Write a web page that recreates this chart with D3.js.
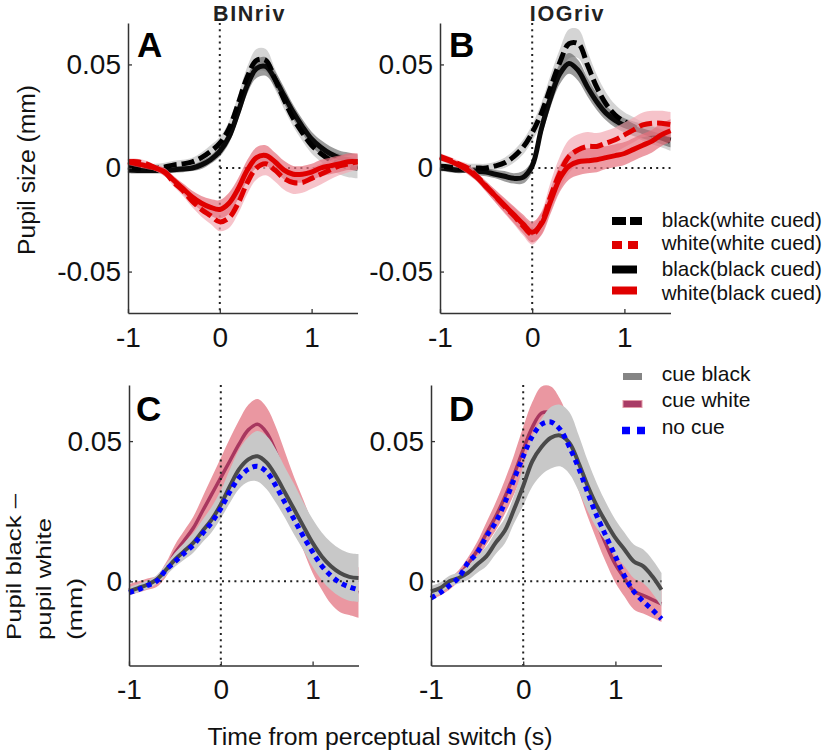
<!DOCTYPE html>
<html><head><meta charset="utf-8">
<script src="https://cdn.jsdelivr.net/npm/d3@7"></script>
<style>
body{margin:0;background:#fff;}
svg{display:block;font-family:"Liberation Sans",Arial,Helvetica,sans-serif;}
</style></head><body>
<svg id="chart" width="826" height="754"></svg>
<script>
// ---------- data ----------
const time = [-1,-0.9,-0.8,-0.7,-0.6,-0.5,-0.4,-0.3,-0.2,-0.1,0,0.1,0.2,0.3,0.4,0.5,0.6,0.7,0.8,0.9,1,1.1,1.2,1.3,1.4,1.5];
const xTicks = [-1,0,1];
const topYTicks = [-0.05,0,0.05];
const bottomYTicks = [0,0.05];
const panelTitles = ["BINriv","IOGriv"];
const panelLetters = ["A","B","C","D"];
const legendTop = ["black(white cued)","white(white cued)","black(black cued)","white(black cued)"];
const legendBottom = ["cue black","cue white","no cue"];

// Panel A (BINriv)
const A_blackWhiteCued = [0.0005,0,0,0,0.0005,0.0015,0.002,0.003,0.005,0.008,0.012,0.019,0.031,0.044,0.052,0.052,0.043,0.033,0.024,0.017,0.011,0.007,0.004,0.002,0.0005,0];
const A_blackWhiteCuedSE = [0.002,0.002,0.002,0.002,0.002,0.002,0.002,0.002,0.0025,0.003,0.003,0.0035,0.004,0.005,0.0055,0.0055,0.005,0.0045,0.004,0.004,0.004,0.004,0.0045,0.005,0.005,0.005];
const A_whiteWhiteCued = [0.003,0.003,0.002,0,-0.002,-0.007,-0.011,-0.016,-0.020,-0.023,-0.026,-0.024,-0.017,-0.007,0,0.002,-0.001,-0.005,-0.007,-0.007,-0.005,-0.003,-0.001,0.001,0.002,0.003];
const A_whiteWhiteCuedSE = [0.0015,0.0015,0.0015,0.0015,0.002,0.002,0.0025,0.003,0.0035,0.004,0.0045,0.005,0.005,0.0055,0.0055,0.0055,0.0055,0.0055,0.0055,0.005,0.005,0.005,0.0045,0.0045,0.004,0.004];
const A_blackBlackCued = [-0.001,-0.0012,-0.0012,-0.0012,-0.001,-0.0008,-0.0005,0,0.0015,0.004,0.008,0.015,0.027,0.040,0.048,0.049,0.043,0.035,0.027,0.020,0.014,0.010,0.007,0.005,0.004,0.003];
const A_blackBlackCuedSE = [0.0015,0.0015,0.0015,0.0015,0.0015,0.0015,0.0015,0.0015,0.002,0.002,0.0025,0.003,0.0035,0.004,0.0045,0.0045,0.004,0.004,0.0035,0.0035,0.0035,0.0035,0.0035,0.0035,0.0035,0.0035];
const A_whiteBlackCued = [0.003,0.002,0.001,0,-0.002,-0.006,-0.010,-0.014,-0.017,-0.019,-0.020,-0.017,-0.010,-0.001,0.005,0.006,0.003,-0.001,-0.003,-0.003,-0.002,0,0.001,0.002,0.003,0.003];
const A_whiteBlackCuedSE = [0.0015,0.0015,0.0015,0.0015,0.002,0.002,0.0025,0.003,0.0035,0.004,0.0045,0.005,0.005,0.005,0.005,0.005,0.0045,0.0045,0.004,0.004,0.004,0.004,0.004,0.004,0.004,0.004];

// Panel B (IOGriv)
const B_blackWhiteCued = [0.0008,0.0005,0,0,0,0,0.001,0.0025,0.0055,0.010,0.017,0.0265,0.039,0.051,0.060,0.060,0.0497,0.039,0.031,0.0256,0.0224,0.020,0.0176,0.016,0.0145,0.0128];
const B_blackWhiteCuedSE = [0.002,0.002,0.002,0.002,0.002,0.002,0.002,0.0025,0.003,0.0035,0.004,0.005,0.006,0.0065,0.007,0.007,0.0065,0.006,0.0055,0.005,0.0045,0.0045,0.0045,0.0045,0.0045,0.0045];
const B_whiteWhiteCued = [0.0056,0.004,0.002,0,-0.004,-0.0088,-0.0136,-0.0185,-0.023,-0.028,-0.032,-0.0265,-0.0137,-0.0024,0.0056,0.0088,0.0104,0.0104,0.012,0.0136,0.016,0.0184,0.0208,0.0216,0.0216,0.021];
const B_whiteWhiteCuedSE = [0.0015,0.0015,0.0015,0.002,0.002,0.0025,0.003,0.0035,0.004,0.0045,0.005,0.0055,0.007,0.008,0.008,0.0075,0.007,0.0065,0.006,0.006,0.006,0.006,0.006,0.006,0.006,0.006];
const B_blackBlackCued = [0,-0.0005,-0.001,-0.001,-0.0015,-0.002,-0.003,-0.004,-0.005,-0.0045,0.001,0.019,0.034,0.0455,0.0505,0.047,0.039,0.032,0.0265,0.023,0.0205,0.019,0.0178,0.0165,0.015,0.0135];
const B_blackBlackCuedSE = [0.0015,0.0015,0.0015,0.0015,0.002,0.002,0.002,0.0025,0.0025,0.003,0.003,0.004,0.0045,0.005,0.005,0.005,0.0045,0.004,0.0035,0.0035,0.0035,0.0035,0.0035,0.0035,0.0035,0.0035];
const B_whiteBlackCued = [0.005,0.0035,0.0015,-0.001,-0.0045,-0.009,-0.0135,-0.018,-0.0225,-0.027,-0.031,-0.027,-0.016,-0.005,0.001,0.003,0.0035,0.004,0.005,0.006,0.007,0.009,0.011,0.013,0.016,0.018];
const B_whiteBlackCuedSE = [0.0015,0.0015,0.0015,0.002,0.002,0.0025,0.003,0.0035,0.004,0.0045,0.005,0.0055,0.006,0.0065,0.0065,0.0065,0.006,0.006,0.0055,0.0055,0.0055,0.0055,0.0055,0.0055,0.0055,0.0055];

// Panel C (BINriv difference)
const C_cueBlack = [-0.0036,-0.0024,-0.0012,0.0006,0.004,0.0077,0.0107,0.0137,0.0179,0.022,0.0274,0.034,0.040,0.0435,0.0446,0.0423,0.0375,0.0316,0.0256,0.0196,0.0137,0.0089,0.0054,0.003,0.0016,0.0012];
const C_cueBlackSE = [0.0015,0.0015,0.0015,0.0015,0.002,0.0025,0.003,0.0035,0.004,0.0045,0.005,0.006,0.007,0.008,0.009,0.0095,0.0095,0.009,0.009,0.0085,0.0085,0.0085,0.0085,0.0085,0.0085,0.0085];
const C_cueWhite = [-0.003,-0.002,-0.001,0,0.004,0.010,0.0145,0.019,0.025,0.031,0.037,0.043,0.049,0.054,0.056,0.053,0.046,0.037,0.028,0.020,0.012,0.006,0.001,-0.002,-0.003,-0.004];
const C_cueWhiteSE = [0.002,0.002,0.002,0.002,0.0025,0.003,0.0035,0.004,0.005,0.006,0.007,0.008,0.0085,0.009,0.009,0.009,0.009,0.009,0.009,0.009,0.009,0.009,0.009,0.009,0.009,0.009];
const C_noCue = [-0.004,-0.003,-0.0015,0,0.004,0.007,0.010,0.013,0.017,0.021,0.026,0.032,0.037,0.040,0.041,0.039,0.034,0.028,0.022,0.016,0.0105,0.0055,0.002,-0.0005,-0.002,-0.003];

// Panel D (IOGriv difference)
const D_cueBlack = [-0.0036,-0.0024,0,0.0012,0.003,0.006,0.0089,0.0137,0.018,0.0256,0.034,0.0429,0.048,0.0512,0.052,0.0494,0.0423,0.034,0.0268,0.0209,0.0155,0.0113,0.0071,0.0054,0.0018,-0.003];
const D_cueBlackSE = [0.002,0.002,0.002,0.002,0.0025,0.003,0.0035,0.004,0.0045,0.005,0.007,0.009,0.010,0.011,0.011,0.011,0.010,0.009,0.008,0.007,0.0065,0.006,0.006,0.006,0.006,0.006];
const D_cueWhite = [-0.005,-0.0035,-0.001,0.002,0.006,0.011,0.017,0.023,0.030,0.038,0.047,0.055,0.060,0.060,0.056,0.049,0.040,0.030,0.021,0.013,0.006,0.001,-0.0035,-0.005,-0.0065,-0.008];
const D_cueWhiteSE = [0.0015,0.0015,0.002,0.002,0.0025,0.003,0.004,0.005,0.006,0.007,0.008,0.009,0.0095,0.0095,0.009,0.008,0.0075,0.007,0.0065,0.0065,0.0065,0.0065,0.0065,0.0065,0.0065,0.0065];
const D_noCue = [-0.006,-0.004,-0.0015,0.0013,0.0066,0.0101,0.016,0.021,0.028,0.0363,0.0446,0.0518,0.056,0.0568,0.0542,0.048,0.0405,0.0316,0.0232,0.016,0.0089,0.0018,-0.0036,-0.0071,-0.0101,-0.0134];

// ---------- drawing ----------
const FONT = '"Liberation Sans",Arial,Helvetica,sans-serif';
const svg = d3.select('#chart');
svg.append('rect').attr('width',826).attr('height',754).attr('fill','#fff');

const xDomain = [-1,1.5];
const layout = {
  A:{l:128,r:357.5,t:23,b:313,yDom:[-0.07,0.07],yTicks:topYTicks,hFrom:0},
  B:{l:440,r:670.5,t:23,b:313,yDom:[-0.07,0.07],yTicks:topYTicks,hFrom:0},
  C:{l:129,r:358.5,t:385,b:665.5,yDom:[-0.03,0.07],yTicks:bottomYTicks,hFrom:-1},
  D:{l:431,r:661.5,t:385,b:665.5,yDom:[-0.03,0.07],yTicks:bottomYTicks,hFrom:-1}
};
const curve = d3.curveCatmullRom.alpha(0.5);
const fmt = d => d === 0 ? '0' : String(d);

function scales(p){
  return {x:d3.scaleLinear().domain(xDomain).range([p.l,p.r]),
          y:d3.scaleLinear().domain(p.yDom).range([p.b,p.t])};
}
function band(g,s,vals,err,fill,op){
  g.append('path')
    .datum(time.map((t,i)=>[t,vals[i],err[i]]))
    .attr('d',d3.area().curve(curve).x(d=>s.x(d[0])).y0(d=>s.y(d[1]-d[2])).y1(d=>s.y(d[1]+d[2])))
    .attr('fill',fill).attr('fill-opacity',op).attr('stroke','none');
}
function line(g,s,vals,stroke,w,dash){
  const p = g.append('path')
    .datum(time.map((t,i)=>[t,vals[i]]))
    .attr('d',d3.line().curve(curve).x(d=>s.x(d[0])).y(d=>s.y(d[1])))
    .attr('fill','none').attr('stroke',stroke).attr('stroke-width',w)
    .attr('stroke-linejoin','round');
  if(dash) p.attr('stroke-dasharray',dash);
}
function refs(g,s,p){
  g.append('line').attr('x1',s.x(0)).attr('x2',s.x(0)).attr('y1',p.t).attr('y2',p.b)
    .attr('stroke','#222').attr('stroke-width',2).attr('stroke-dasharray','2,4.2');
  g.append('line').attr('x1',s.x(p.hFrom)).attr('x2',p.r).attr('y1',s.y(0)).attr('y2',s.y(0))
    .attr('stroke','#222').attr('stroke-width',2).attr('stroke-dasharray','2,4.2');
}
function axes(g,s,p){
  const ay = g.append('g').attr('transform',`translate(${p.l},0)`)
    .call(d3.axisLeft(s.y).tickValues(p.yTicks).tickSize(-4).tickSizeOuter(0).tickPadding(7).tickFormat(fmt));
  const ax = g.append('g').attr('transform',`translate(0,${p.b})`)
    .call(d3.axisBottom(s.x).tickValues(xTicks).tickSize(-4).tickSizeOuter(0).tickPadding(14).tickFormat(fmt));
  [ay,ax].forEach(a=>{
    a.attr('font-size',28).attr('font-family',FONT);
    a.select('.domain').attr('stroke','#333').attr('stroke-width',1.5);
    a.selectAll('.tick line').attr('stroke','#333').attr('stroke-width',1.3);
    a.selectAll('.tick text').attr('fill','#111');
  });
}

// Top panels
function topPanel(key,bw,bwSE,ww,wwSE,bb,bbSE,wb,wbSE){
  const p = layout[key], s = scales(p), g = svg.append('g');
  band(g,s,bw,bwSE,'#c9c9c9',0.8);
  band(g,s,bb,bbSE,'#5a5a5a',0.6);
  refs(g,s,p);
  line(g,s,bb,'#0a0a0a',5);
  line(g,s,bw,'#000',5,'13,5');
  band(g,s,ww,wwSE,'#f2aab3',0.7);
  band(g,s,wb,wbSE,'#e5707d',0.7);
  line(g,s,wb,'#e00000',5);
  line(g,s,ww,'#e00000',5,'13,5');
  axes(g,s,p);
}
topPanel('A',A_blackWhiteCued,A_blackWhiteCuedSE,A_whiteWhiteCued,A_whiteWhiteCuedSE,A_blackBlackCued,A_blackBlackCuedSE,A_whiteBlackCued,A_whiteBlackCuedSE);
topPanel('B',B_blackWhiteCued,B_blackWhiteCuedSE,B_whiteWhiteCued,B_whiteWhiteCuedSE,B_blackBlackCued,B_blackBlackCuedSE,B_whiteBlackCued,B_whiteBlackCuedSE);

// Bottom panels
function bottomPanel(key,cb,cbSE,cw,cwSE,nc){
  const p = layout[key], s = scales(p), g = svg.append('g');
  band(g,s,cw,cwSE,'#ea97a1',1);
  line(g,s,cw,'#a8375f',3.5);
  band(g,s,cb,cbSE,'#c8c8c8',1);
  refs(g,s,p);
  line(g,s,cb,'#4a4a4a',4);
  line(g,s,nc,'#0000ff',5,'5,4.5');
  axes(g,s,p);
}
bottomPanel('C',C_cueBlack,C_cueBlackSE,C_cueWhite,C_cueWhiteSE,C_noCue);
bottomPanel('D',D_cueBlack,D_cueBlackSE,D_cueWhite,D_cueWhiteSE,D_noCue);

// Titles and panel letters
const txt = svg.append('g').attr('font-family',FONT).attr('fill','#000');
txt.append('text').attr('x',249.5).attr('y',21).attr('text-anchor','middle').attr('font-size',21.5).attr('letter-spacing',1.6).attr('font-weight','bold').attr('fill','#222').text(panelTitles[0]);
txt.append('text').attr('x',567.5).attr('y',21).attr('text-anchor','middle').attr('font-size',21.5).attr('letter-spacing',1.6).attr('font-weight','bold').attr('fill','#222').text(panelTitles[1]);
const letterPos = [[137,57],[449,57],[136,421],[449,421]];
panelLetters.forEach((L,i)=>{
  txt.append('text').attr('x',letterPos[i][0]).attr('y',letterPos[i][1]).attr('font-size',35).attr('font-weight','bold').text(L);
});

// Axis titles
txt.append('text').attr('transform','translate(35,170) rotate(-90)').attr('text-anchor','middle').attr('font-size',24.7).attr('fill','#111').text('Pupil size (mm)');
const yLab2 = ['Pupil black \u2013','pupil white','(mm)'];
const yLab2x = [20.5,51,82];
const yLab2len = [146,122,62];
yLab2.forEach((t,i)=>{
  txt.append('text').attr('transform',`translate(${yLab2x[i]},640) rotate(-90)`).attr('text-anchor','start')
    .attr('font-size',21).attr('textLength',yLab2len[i]).attr('lengthAdjust','spacingAndGlyphs')
    .attr('fill','#111').text(t);
});
txt.append('text').attr('x',380).attr('y',745).attr('text-anchor','middle').attr('font-size',24.8).attr('fill','#111').text('Time from perceptual switch (s)');

// Legend (top)
const lg1 = svg.append('g');
const lg1Style = [
  {c:'#000',dash:'14,4',y:221,x2:642},
  {c:'#e00000',dash:'10,6',y:245,x2:642},
  {c:'#000',dash:null,y:269.5,x2:637},
  {c:'#e00000',dash:null,y:290.5,x2:637}
];
const lg1Base = [226.5,250,276,299.5];
legendTop.forEach((t,i)=>{
  const st = lg1Style[i];
  const l = lg1.append('line').attr('x1',612).attr('x2',st.x2).attr('y1',st.y).attr('y2',st.y)
    .attr('stroke',st.c).attr('stroke-width',8);
  if(st.dash) l.attr('stroke-dasharray',st.dash);
  lg1.append('text').attr('x',661.7).attr('y',lg1Base[i]).attr('font-family',FONT).attr('font-size',20.6).attr('fill','#111').text(t);
});

// Legend (bottom)
const lg2 = svg.append('g');
lg2.append('rect').attr('x',623).attr('y',373).attr('width',19).attr('height',7).attr('fill','#858585');
lg2.append('rect').attr('x',623).attr('y',400.5).attr('width',19).attr('height',7).attr('fill','#a93c66').attr('stroke','#e39aa6').attr('stroke-width',1);
lg2.append('line').attr('x1',622).attr('x2',645).attr('y1',430.5).attr('y2',430.5).attr('stroke','#0000ff').attr('stroke-width',7.5).attr('stroke-dasharray','8,7');
const lg2Base = [381,407,433.5];
legendBottom.forEach((t,i)=>{
  lg2.append('text').attr('x',661.7).attr('y',lg2Base[i]).attr('font-family',FONT).attr('font-size',21).attr('fill','#111').text(t);
});
</script></body></html>
